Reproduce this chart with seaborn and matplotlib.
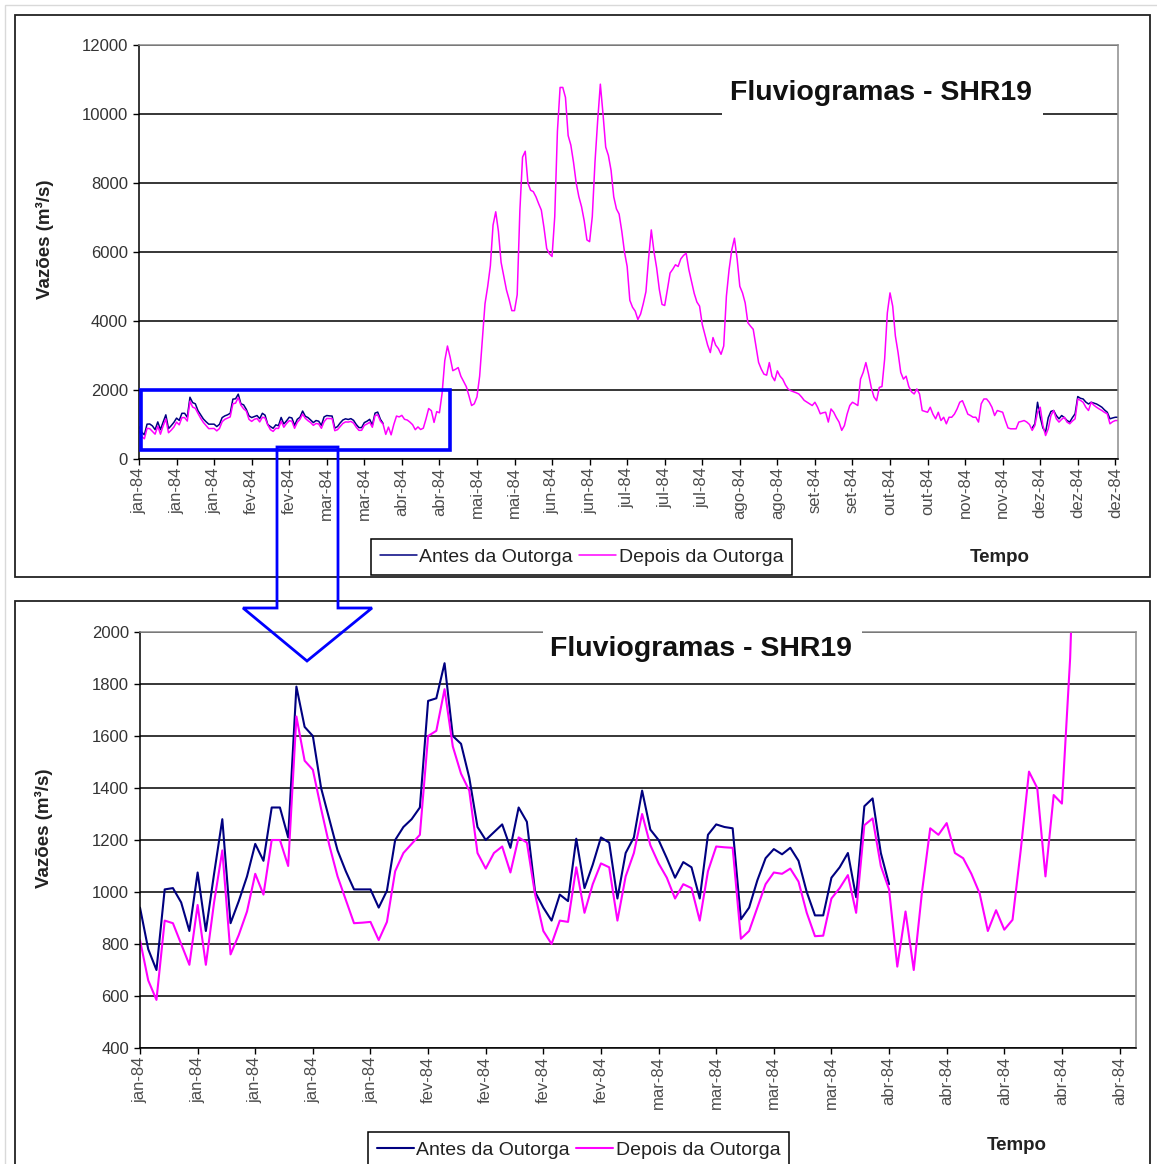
"""Fluviogramas SHR19: vazões diárias antes e depois da outorga (ano todo + detalhe jan-abr)"""

import matplotlib

matplotlib.use("Agg")
import matplotlib.pyplot as plt
import numpy as np
import pandas as pd
import seaborn as sns
from matplotlib.patches import Polygon, Rectangle

# ---------------------------------------------------------------- dados
meses = ["jan", "fev", "mar", "abr", "mai", "jun", "jul", "ago", "set", "out", "nov", "dez"]
ano = "84"

# vazão diária depois da outorga (m³/s), 1 jan .. 31 dez 1984
depois = [
    815, 660, 585, 890, 880, 800, 720, 950, 720, 960, 1160, 760, 835, 925, 1070, 990,
    1200, 1200, 1100, 1675, 1505, 1470, 1320, 1180, 1060, 970, 880, 882, 885, 815, 885,
    1080, 1150, 1185, 1220, 1600, 1620, 1780, 1560, 1455, 1390, 1150, 1090, 1150, 1175,
    1075, 1210, 1190,
    990, 850, 800, 890, 885, 1095, 920, 1030, 1110, 1095, 890, 1060, 1150, 1300, 1180,
    1110, 1055, 975, 1030, 1015, 890, 1080, 1175, 1172, 1170, 820, 850, 940, 1030, 1075,
    1070, 1090, 1040, 920, 830, 832, 975, 1015, 1065, 920, 1257, 1283, 1100, 1010, 713,
    925, 700, 1000, 1245, 1220, 1265, 1150, 1130, 1070, 995, 850, 930, 855, 893, 1162,
    1463, 1400, 1060, 1373, 1340, 1900,
    2850, 3275, 2950, 2560, 2600, 2650, 2400, 2250, 2100, 1835, 1550, 1600, 1800, 2400,
    3470, 4500, 5000, 5600, 6780, 7165, 6600, 5700, 5300, 4900, 4620, 4300, 4300, 4760,
    7200, 8750, 8920, 8000, 7790, 7750, 7600, 7400, 7215, 6700, 6100, 5950, 5870, 7025,
    9500, 10770, 10770, 10480, 9375, 9100, 8600, 8000, 7600, 7310, 6900, 6350, 6300,
    7025, 8600, 9800, 10865, 10000, 9040, 8800, 8365, 7600, 7250, 7100, 6600, 6000, 5580,
    4600, 4400, 4285, 4045, 4200, 4500, 4850, 5820, 6640, 6010, 5535, 4910, 4480, 4450,
    4910,
    5390, 5500, 5630, 5580, 5800, 5900, 5965, 5490, 5150, 4800, 4550, 4430, 3900, 3600,
    3300, 3085, 3520, 3300, 3200, 3035, 3275, 4720, 5490, 6060, 6400, 5800, 5005, 4815,
    4525, 3950, 3850, 3760, 3275, 2800, 2605, 2460, 2430, 2795, 2400, 2270, 2555, 2400,
    2315, 2150, 2030, 1980, 1950, 1920, 1885, 1800, 1700, 1650, 1600, 1550, 1645, 1500,
    1310, 1340, 1355, 1070, 1450, 1355, 1200, 1070, 830, 970, 1300, 1550, 1645, 1600,
    1550, 2315, 2510, 2795, 2460, 2075, 1800, 1690,
    2075, 2100, 2900, 4235, 4815, 4430, 3565, 3085, 2510, 2315, 2400, 2100, 1950, 1885,
    2030, 1885, 1405, 1380, 1355, 1500, 1300, 1165, 1355, 1115, 1210, 1020, 1210, 1210,
    1300, 1450, 1645, 1690, 1500, 1300, 1260, 1210, 1210, 1070, 1600, 1740, 1740, 1645,
    1500, 1260, 1405, 1380, 1355, 1115, 900, 875, 875, 875, 1070, 1090, 1115, 1070, 1000,
    830, 970, 1355, 1500, 970, 680, 875, 1260, 1405, 1165, 1070, 1150, 1210, 1070, 1020,
    1100, 1165, 1740, 1700, 1645, 1500, 1405, 1645, 1560, 1500, 1450, 1405, 1350, 1310,
    1020, 1080, 1115, 1115,
]

# vazão antes da outorga: só difere nos trechos jan-abr e dez
antes_jan_abr = [
    940, 780, 700, 1010, 1015, 960, 850, 1075, 850, 1070, 1280, 880, 965, 1060, 1185,
    1120, 1325, 1325, 1210, 1790, 1635, 1600, 1400, 1280, 1160, 1080, 1010, 1010, 1010,
    940, 1005, 1200, 1250, 1280, 1325, 1735, 1745, 1880, 1600, 1570, 1440, 1250, 1200,
    1230, 1260, 1170, 1325, 1270,
    1000, 940, 890, 990, 965, 1205, 1015, 1105, 1210, 1190, 975, 1150, 1210, 1390, 1240,
    1200, 1130, 1055, 1115, 1095, 975, 1220, 1260, 1250, 1245, 895, 940, 1045, 1130,
    1165, 1145, 1170, 1120, 1000, 910, 910, 1055, 1095, 1150, 980, 1330, 1360, 1150,
    1030,
]
inicio_antes_dez = 333
antes_dez = [
    900, 1020, 1645, 1210, 900, 780, 1200, 1380, 1405, 1260, 1165, 1260, 1200, 1115,
    1070, 1200, 1310, 1810, 1760, 1740, 1650, 1595, 1645, 1620, 1595, 1550, 1500, 1420,
    1355, 1165, 1190, 1210, 1210,
]

titulo = "Fluviogramas - SHR19"
rotulo_y = "Vazões (m³/s)"
rotulo_tempo = "Tempo"
nomes_series = ["Antes da Outorga", "Depois da Outorga"]

# ---------------------------------------------------------------- estilo
AZUL = "#000080"
MAGENTA = "#FF00FF"
AZUL_DESTAQUE = "#0000FF"
W, H = 1157, 1164

sns.set_theme(style="white")
plt.rcParams["font.family"] = ["Liberation Sans", "DejaVu Sans"]

df_depois = pd.DataFrame({"dia": np.arange(len(depois)), "vazao": depois})
df_antes_1 = pd.DataFrame({"dia": np.arange(len(antes_jan_abr)), "vazao": antes_jan_abr})
df_antes_2 = pd.DataFrame(
    {"dia": np.arange(len(antes_dez)) + inicio_antes_dez, "vazao": antes_dez}
)
data0 = pd.Timestamp("1984-01-01")


def fx(x):
    return x / W


def fy(y):
    return 1 - y / H


def painel(ax, xmax, passo_x, ylim, passo_y, lw, caixa_titulo, pos_titulo, ylab_y):
    sns.lineplot(data=df_antes_1, x="dia", y="vazao", color=AZUL, lw=lw, ax=ax,
                 label=nomes_series[0], legend=False)
    sns.lineplot(data=df_antes_2, x="dia", y="vazao", color=AZUL, lw=lw, ax=ax,
                 legend=False)
    sns.lineplot(data=df_depois, x="dia", y="vazao", color=MAGENTA, lw=lw, ax=ax,
                 label=nomes_series[1], legend=False)

    ax.set_xlim(0, xmax)
    ax.set_ylim(*ylim)
    niveis = np.arange(ylim[0], ylim[1] + 1, passo_y)
    ax.set_yticks(niveis)
    ax.set_yticklabels([f"{v:d}" for v in niveis], fontsize=12, color="#333333")
    dias = np.arange(0, xmax, passo_x)
    rotulos = [f"{meses[(data0 + pd.Timedelta(days=int(d))).month - 1]}-{ano}" for d in dias]
    ax.set_xticks(dias)
    ax.set_xticklabels(rotulos, rotation=90, fontsize=12, color="#4d4d4d")
    ax.tick_params(axis="both", direction="out", length=4, width=1, color="black")
    ax.tick_params(axis="y", left=True, pad=4)
    ax.tick_params(axis="x", bottom=True, pad=2)

    ax.yaxis.grid(True, color="black", lw=1.1)
    ax.xaxis.grid(False)
    ax.set_axisbelow(True)
    for lado in ["left", "bottom"]:
        ax.spines[lado].set_color("black")
        ax.spines[lado].set_linewidth(1.1)
    for lado in ["top", "right"]:
        ax.spines[lado].set_color("#8c8c8c")
        ax.spines[lado].set_linewidth(1.1)

    ax.set_xlabel("")
    ax.set_ylabel(rotulo_y, fontsize=13.5, fontweight="bold", color="#222222")
    ax.yaxis.set_label_coords(-0.087, ylab_y)

    x0, x1, y0, y1 = caixa_titulo
    ax.add_patch(Rectangle((x0, y0), x1 - x0, y1 - y0, transform=ax.transAxes,
                           facecolor="white", edgecolor="none", zorder=3, clip_on=False))
    ax.text(pos_titulo[0], pos_titulo[1], titulo, transform=ax.transAxes, ha="center",
            va="center", fontsize=20.5, fontweight="bold", color="#111111", zorder=4)


fig = plt.figure(figsize=(W / 100, H / 100), dpi=100)
fig.patch.set_facecolor("white")

ax1 = fig.add_axes([fx(139), fy(459), fx(1118) - fx(139), fy(45) - fy(459)])
painel(ax1, 365, 14, (0, 12000), 2000, 1.1,
       (0.5955, 0.9234, 0.82, 0.95), (0.758, 0.884), 0.531)

ax2 = fig.add_axes([fx(140), fy(1048), fx(1136) - fx(140), fy(632) - fy(1048)])
painel(ax2, 121, 7, (400, 2000), 200, 1.5,
       (0.4046, 0.7249, 0.92, 1.05), (0.563, 0.959), 0.529)

# destaque do trecho ampliado
ax1.add_patch(Rectangle((0.7, 260), 115.4, 1740, fill=False, edgecolor=AZUL_DESTAQUE,
                        lw=2.6, zorder=5, clip_on=False))
seta = [(277, 447), (338, 447), (338, 608), (372, 608), (307, 661), (243, 608), (277, 608)]
fig.add_artist(Polygon([(fx(x), fy(y)) for x, y in seta], closed=True, fill=False,
                       edgecolor=AZUL_DESTAQUE, lw=2.0, transform=fig.transFigure,
                       zorder=6))

# molduras dos dois gráficos
fig.add_artist(Rectangle((fx(5), fy(1175)), fx(1160) - fx(5), fy(5) - fy(1175), fill=False,
                         edgecolor="#d9d9d9", lw=1.0, transform=fig.transFigure))
fig.add_artist(Rectangle((fx(15), fy(577)), fx(1150) - fx(15), fy(15) - fy(577), fill=False,
                         edgecolor="#222222", lw=1.3, transform=fig.transFigure))
fig.add_artist(Rectangle((fx(15), fy(1180)), fx(1150) - fx(15), fy(601) - fy(1180),
                         fill=False, edgecolor="#222222", lw=1.3, transform=fig.transFigure))

# legendas e rótulo do eixo do tempo
for ax, cx, cy, tx, ty in [(ax1, 581.5, 557, 1000, 557), (ax2, 578.5, 1150, 1017, 1145)]:
    handles, labels = ax.get_legend_handles_labels()
    leg = ax.legend(handles, labels, loc="center", bbox_to_anchor=(fx(cx), fy(cy)),
                    bbox_transform=fig.transFigure, ncol=2, frameon=True, fancybox=False,
                    edgecolor="black", framealpha=1, fontsize=14, handlelength=1.9,
                    handletextpad=0.15, columnspacing=0.3, borderpad=0.45)
    leg.get_frame().set_linewidth(1.1)
    for t in leg.get_texts():
        t.set_color("#222222")
    fig.text(fx(tx), fy(ty), rotulo_tempo, ha="center", va="center", fontsize=13.5,
             fontweight="bold", color="#222222")

fig.savefig("out.png", dpi=100)
